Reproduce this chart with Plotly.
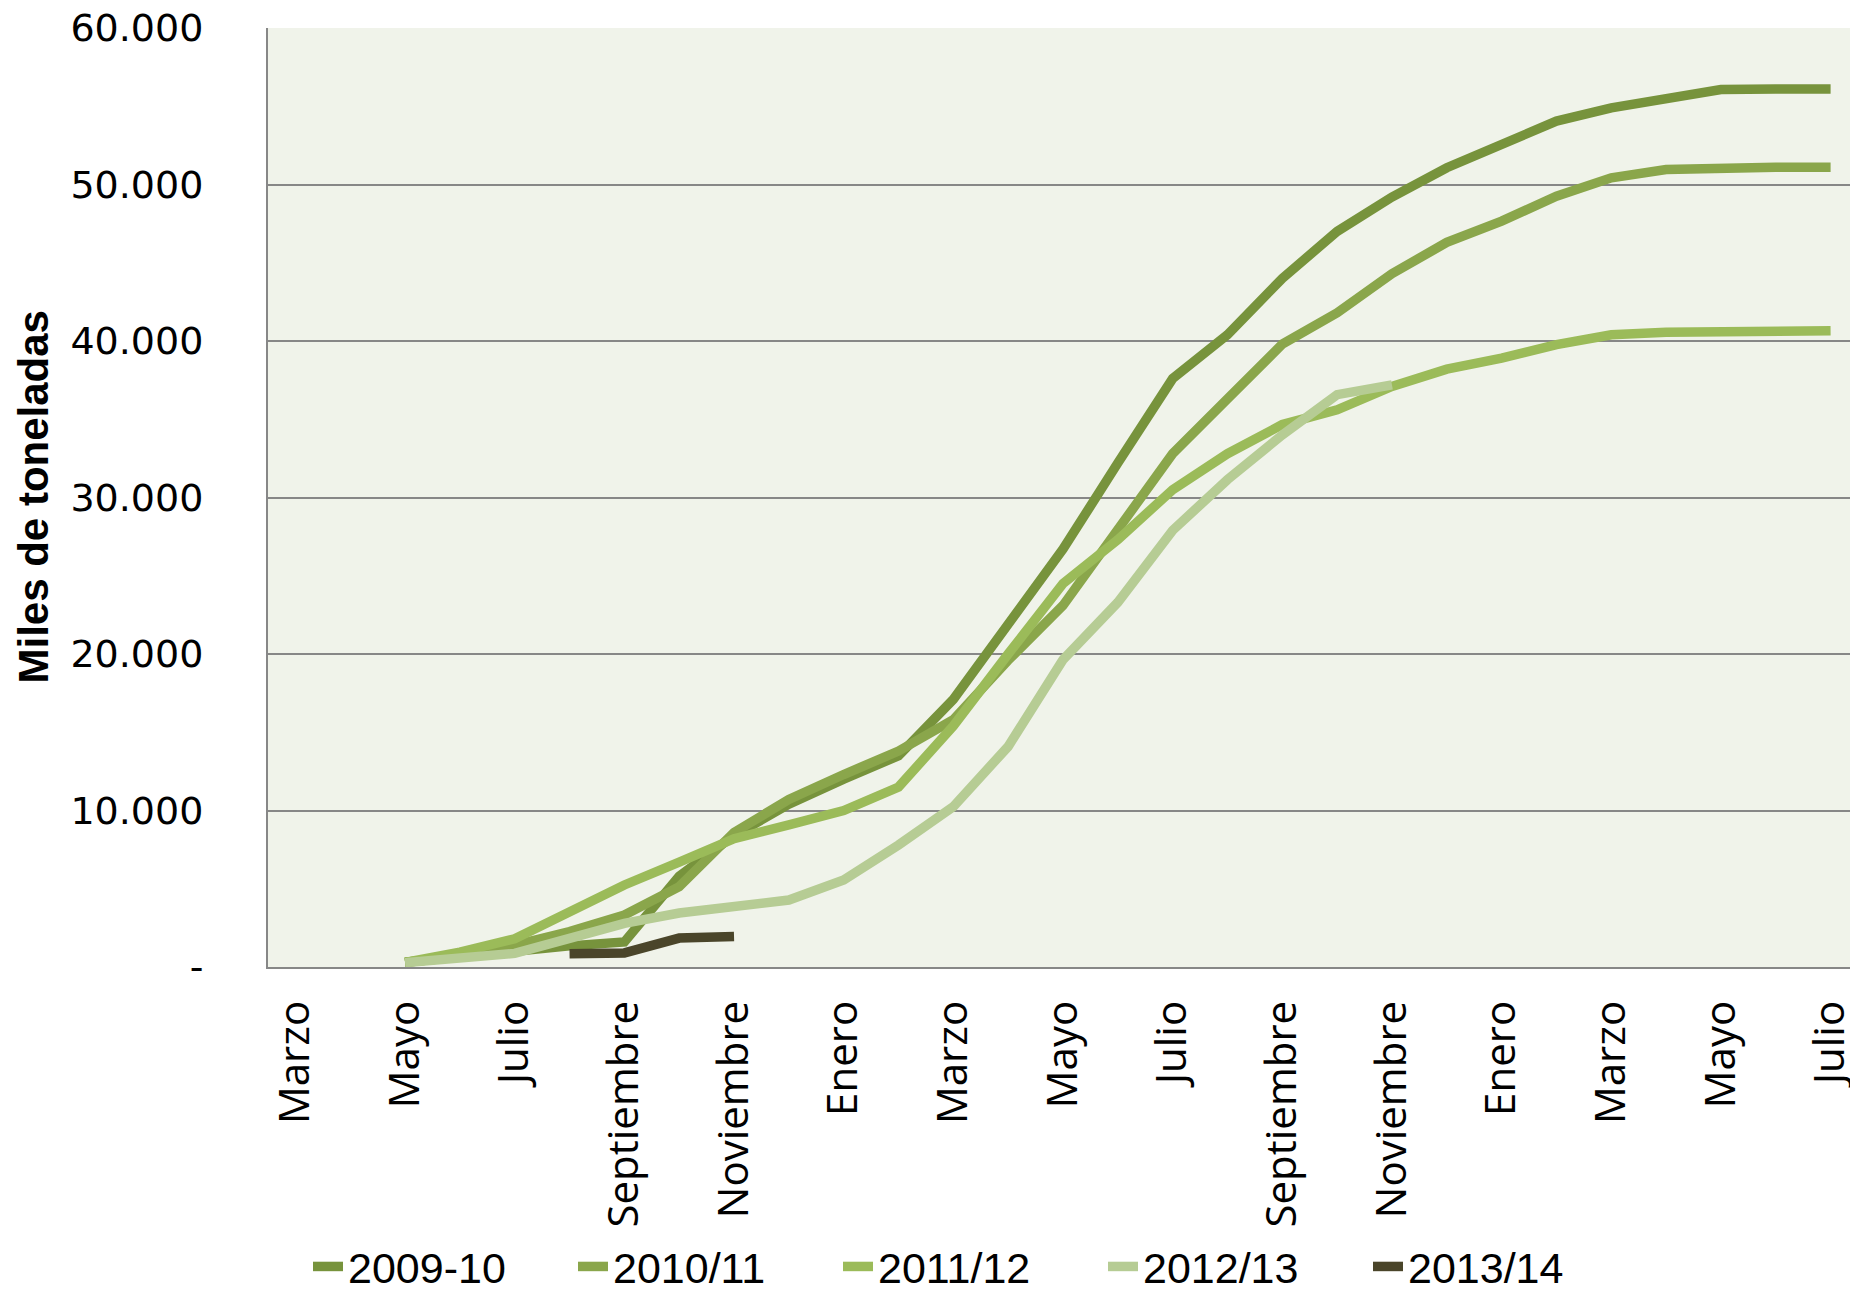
import plotly.graph_objects as go

months = ["Marzo", "Abril", "Mayo", "Junio", "Julio", "Agosto", "Septiembre", "Octubre",
          "Noviembre", "Diciembre", "Enero", "Febrero", "Marzo", "Abril", "Mayo", "Junio",
          "Julio", "Agosto", "Septiembre", "Octubre", "Noviembre", "Diciembre", "Enero",
          "Febrero", "Marzo", "Abril", "Mayo", "Junio", "Julio"]

s2009_10 = [None, None, 300, 700, 1100, 1350, 1600, 5800, 8400, 10400, 12000, 13500, 17100,
            22000, 26700, 32200, 37600, 40400, 44000, 47000, 49200, 51070, 52560, 54050,
            54900, 55500, 56070, 56100, 56100]
s2010_11 = [None, None, 300, 650, 1400, 2260, 3320, 5130, 8600, 10700, 12300, 13800, 15800,
            19600, 23100, 27900, 32800, 36300, 39800, 41800, 44300, 46300, 47660, 49250,
            50430, 50960, 51070, 51100, 51100]
s2011_12 = [None, None, 300, 950, 1800, 3600, 5240, 6700, 8200, 9080, 10000, 11500, 15400,
            20000, 24500, 27300, 30500, 32800, 34660, 35600, 37100, 38200, 38900, 39770,
            40400, 40560, 40620, 40650, 40650]
s2012_13 = [None, None, 280, 550, 870, 1830, 2790, 3450, 3860, 4280, 5560, 7800, 10250,
            14090, 19630, 23300, 27900, 31140, 34000, 36570, 37200, None, None, None,
            None, None, None, None, None]
s2013_14 = [None, None, None, None, None, 850, 900, 1850, 1950, None, None, None, None,
            None, None, None, None, None, None, None, None, None, None, None,
            None, None, None, None, None]

series_names = ["2009-10", "2010/11", "2011/12", "2012/13", "2013/14"]
series_values = [s2009_10, s2010_11, s2011_12, s2012_13, s2013_14]
series_colors = ["#77933C", "#8AA64B", "#9BBB59", "#B6CC94", "#4A452A"]

y_tickvals = [0, 10000, 20000, 30000, 40000, 50000, 60000]
y_ticktext = ["-", "10.000", "20.000", "30.000", "40.000", "50.000", "60.000"]

x_idx = list(range(len(months)))

fig = go.Figure()
for name, vals, col in zip(series_names, series_values, series_colors):
    fig.add_trace(go.Scatter(x=x_idx, y=vals, name=name, mode="lines",
                             line=dict(color=col, width=9.5),
                             connectgaps=False))

# page body adds an 8px margin; figure coordinates compensate for it
W, H = 1850, 1293
L, R, T, B = 260, 0, 20, 334
PW = W - L - R

fig.update_layout(
    width=W, height=H,
    margin=dict(l=L, r=R, t=T, b=B, autoexpand=False),
    paper_bgcolor="white",
    plot_bgcolor="#F0F3EA",
    showlegend=True,
    legend=dict(orientation="h", xref="paper", x=(300 - L) / PW, xanchor="left",
                yref="container", y=-6 / H, yanchor="bottom",
                entrywidth=220, entrywidthmode="pixels",
                font=dict(family="Liberation Sans, Arial, sans-serif", size=43, color="black"),
                itemwidth=30, tracegroupgap=0, bgcolor="rgba(0,0,0,0)"),
    xaxis=dict(
        range=[-0.5, len(months) - 0.5],
        tickmode="array",
        tickvals=x_idx[::2],
        ticktext=months[::2],
        tickangle=-90,
        showgrid=False,
        zeroline=False,
        showline=True, linecolor="#878787", linewidth=2,
        ticks="",
        automargin=False,
        ticklabeloverflow="allow",
        ticklabelstandoff=15,
        tickfont=dict(family="Open Sans", size=42, color="black"),
    ),
    yaxis=dict(
        range=[0, 60000],
        tickmode="array",
        tickvals=y_tickvals,
        ticktext=y_ticktext,
        showgrid=True, gridcolor="#878787", gridwidth=2,
        zeroline=False,
        showline=True, linecolor="#878787", linewidth=2,
        ticks="",
        automargin=False,
        ticklabeloverflow="allow",
        ticklabelstandoff=55,
        tickfont=dict(family="DejaVu Sans", size=38, color="black"),
    ),
    annotations=[dict(
        text="<b>Miles de toneladas</b>", textangle=-90,
        xref="paper", yref="paper", x=(25 - L) / PW, y=0.5,
        xanchor="center", yanchor="middle", showarrow=False,
        font=dict(family="Liberation Sans, Arial, sans-serif", size=42, color="black"),
    )],
)

fig.write_html("out.html")
